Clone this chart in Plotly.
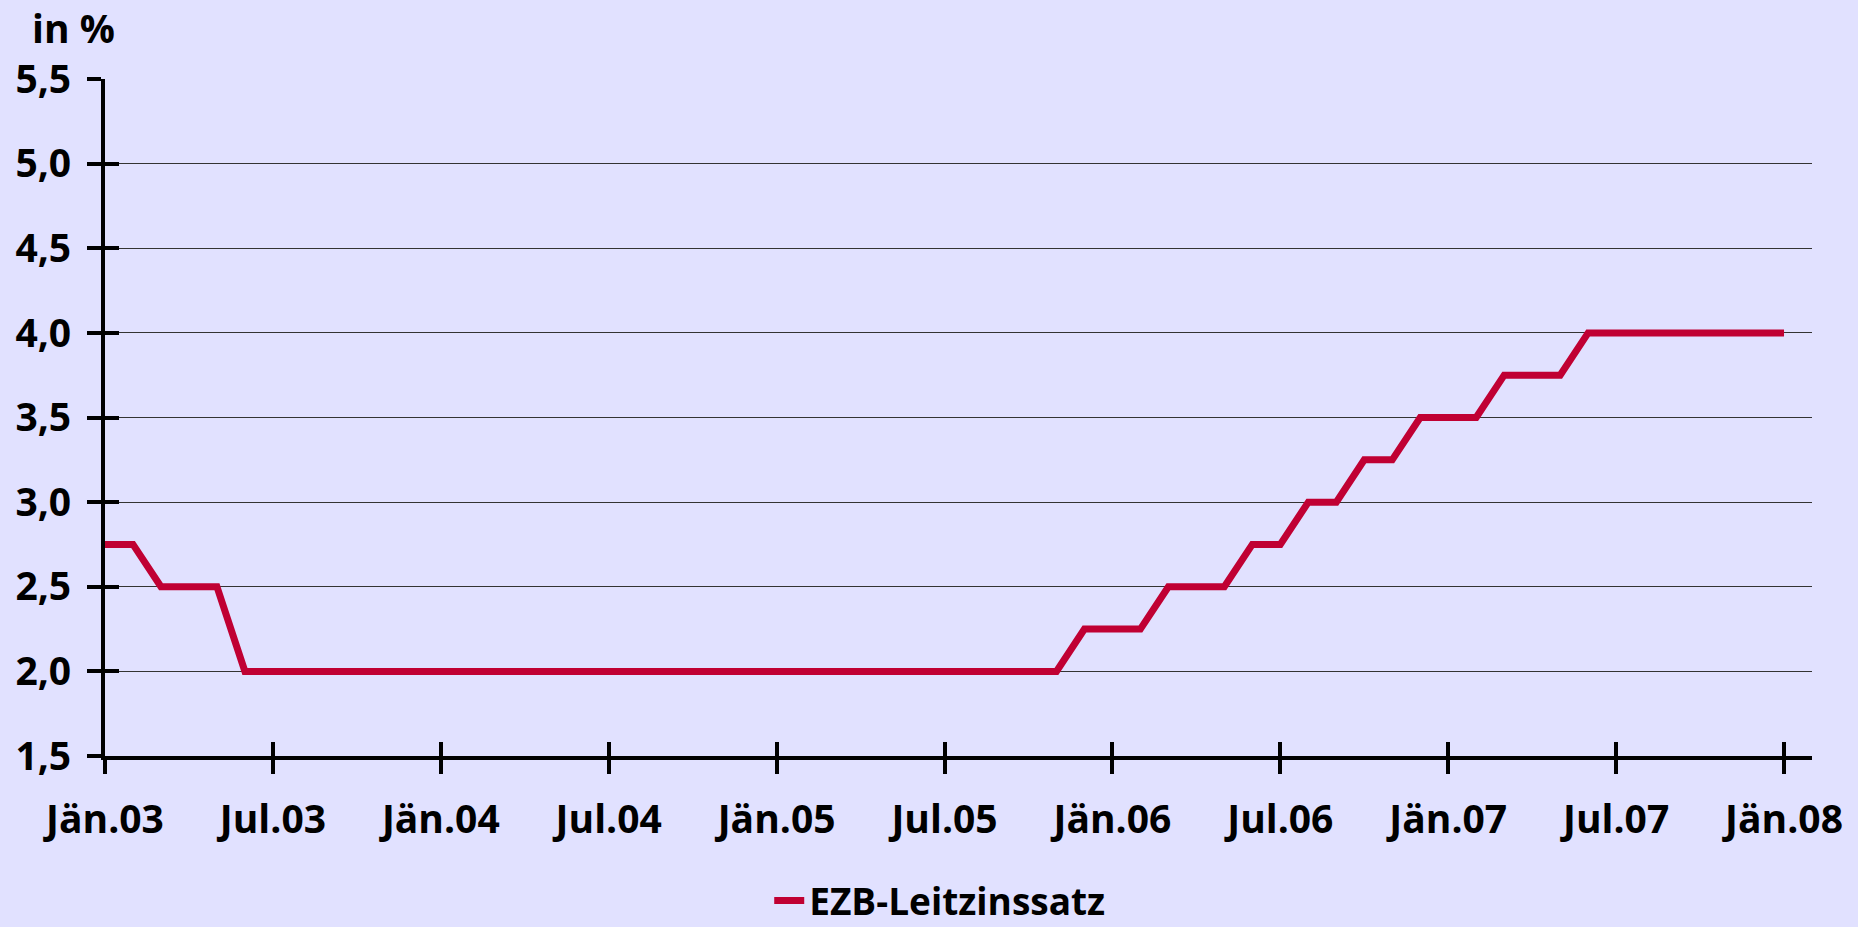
import plotly.graph_objects as go

months = [
    "2003-01","2003-02","2003-03","2003-04","2003-05","2003-06","2003-07","2003-08","2003-09","2003-10","2003-11","2003-12",
    "2004-01","2004-02","2004-03","2004-04","2004-05","2004-06","2004-07","2004-08","2004-09","2004-10","2004-11","2004-12",
    "2005-01","2005-02","2005-03","2005-04","2005-05","2005-06","2005-07","2005-08","2005-09","2005-10","2005-11","2005-12",
    "2006-01","2006-02","2006-03","2006-04","2006-05","2006-06","2006-07","2006-08","2006-09","2006-10","2006-11","2006-12",
    "2007-01","2007-02","2007-03","2007-04","2007-05","2007-06","2007-07","2007-08","2007-09","2007-10","2007-11","2007-12",
    "2008-01",
]
ezb_rate = [
    2.75, 2.75, 2.5, 2.5, 2.5, 2.0, 2.0, 2.0, 2.0, 2.0, 2.0, 2.0,
    2.0, 2.0, 2.0, 2.0, 2.0, 2.0, 2.0, 2.0, 2.0, 2.0, 2.0, 2.0,
    2.0, 2.0, 2.0, 2.0, 2.0, 2.0, 2.0, 2.0, 2.0, 2.0, 2.0, 2.25,
    2.25, 2.25, 2.5, 2.5, 2.5, 2.75, 2.75, 3.0, 3.0, 3.25, 3.25, 3.5,
    3.5, 3.5, 3.75, 3.75, 3.75, 4.0, 4.0, 4.0, 4.0, 4.0, 4.0, 4.0,
    4.0,
]
tick_months = ["2003-01","2003-07","2004-01","2004-07","2005-01","2005-07",
               "2006-01","2006-07","2007-01","2007-07","2008-01"]
tick_labels = ["Jän.03","Jul.03","Jän.04","Jul.04","Jän.05","Jul.05",
               "Jän.06","Jul.06","Jän.07","Jul.07","Jän.08"]
y_ticks = [1.5, 2.0, 2.5, 3.0, 3.5, 4.0, 4.5, 5.0, 5.5]
y_labels = ["1,5","2,0","2,5","3,0","3,5","4,0","4,5","5,0","5,5"]
series_name = "EZB-Leitzinssatz"

BG = "#E1E1FF"
LINE = "#C00033"
FAM = "Open Sans"
FONT = dict(family=FAM, size=39, color="black", weight="bold")

fig = go.Figure()
fig.add_trace(go.Scatter(
    x=months, y=ezb_rate, mode="lines", name=series_name,
    line=dict(color=LINE, width=7), showlegend=True,
))

W, H = 1858, 927
L, R, T, B = 105, 46, 79, 171
PW, PH = W - L - R, H - T - B

tick_idx = [months.index(m) for m in tick_months]

fig.update_layout(
    width=W, height=H,
    paper_bgcolor=BG, plot_bgcolor=BG,
    margin=dict(l=L, r=R, t=T, b=B, pad=0, autoexpand=False),
    font=FONT,
    showlegend=True,
    legend=dict(orientation="h", x=0.489, xanchor="center", y=(H - B - 901) / PH, yanchor="middle",
                font=dict(family=FAM, size=37, color="black", weight="bold"),
                bgcolor="rgba(0,0,0,0)"),
    xaxis=dict(
        type="category", range=[0, 61], automargin=False,
        tickmode="array", tickvals=tick_months, ticktext=tick_labels,
        ticks="outside", ticklen=14, tickwidth=4, tickcolor="black",
        showline=True, linewidth=4, linecolor="black",
        showgrid=False, zeroline=False,
        ticklabelstandoff=12,
        tickfont=FONT,
    ),
    xaxis2=dict(
        overlaying="x", range=[0, 61], type="linear", automargin=False,
        tickmode="array", tickvals=tick_idx, ticktext=[""] * len(tick_idx),
        ticks="inside", ticklen=14, tickwidth=4, tickcolor="black",
        showline=False, showgrid=False, zeroline=False, side="bottom",
        showticklabels=False, anchor="y",
    ),
    yaxis=dict(
        range=[1.5, 5.5], automargin=False,
        tickmode="array", tickvals=y_ticks, ticktext=y_labels,
        ticks="outside", ticklen=14, tickwidth=4, tickcolor="black",
        showline=True, linewidth=4, linecolor="black",
        showgrid=True, gridcolor="#333333", gridwidth=1,
        zeroline=False,
        ticklabelstandoff=8,
        tickfont=FONT,
    ),
    yaxis2=dict(
        overlaying="y", range=[1.5, 5.5], automargin=False,
        tickmode="array", tickvals=y_ticks,
        ticks="inside", ticklen=14, tickwidth=4, tickcolor="black",
        showline=False, showgrid=False, zeroline=False,
        showticklabels=False, anchor="x",
    ),
    annotations=[dict(
        text="in %", xref="paper", yref="paper",
        x=(30 - L) / PW, y=(H - B - 56) / PH,
        xanchor="left", yanchor="bottom", showarrow=False,
        font=FONT,
    )],
)
# invisible trace to activate the overlay axes
fig.add_trace(go.Scatter(x=[0], y=[1.5], xaxis="x2", yaxis="y2", mode="markers",
                         marker=dict(opacity=0), showlegend=False, hoverinfo="skip"))

fig.write_html("out.html", config={"displayModeBar": False},
               post_script="document.body.style.margin='0';document.body.style.background='%s';" % BG)
